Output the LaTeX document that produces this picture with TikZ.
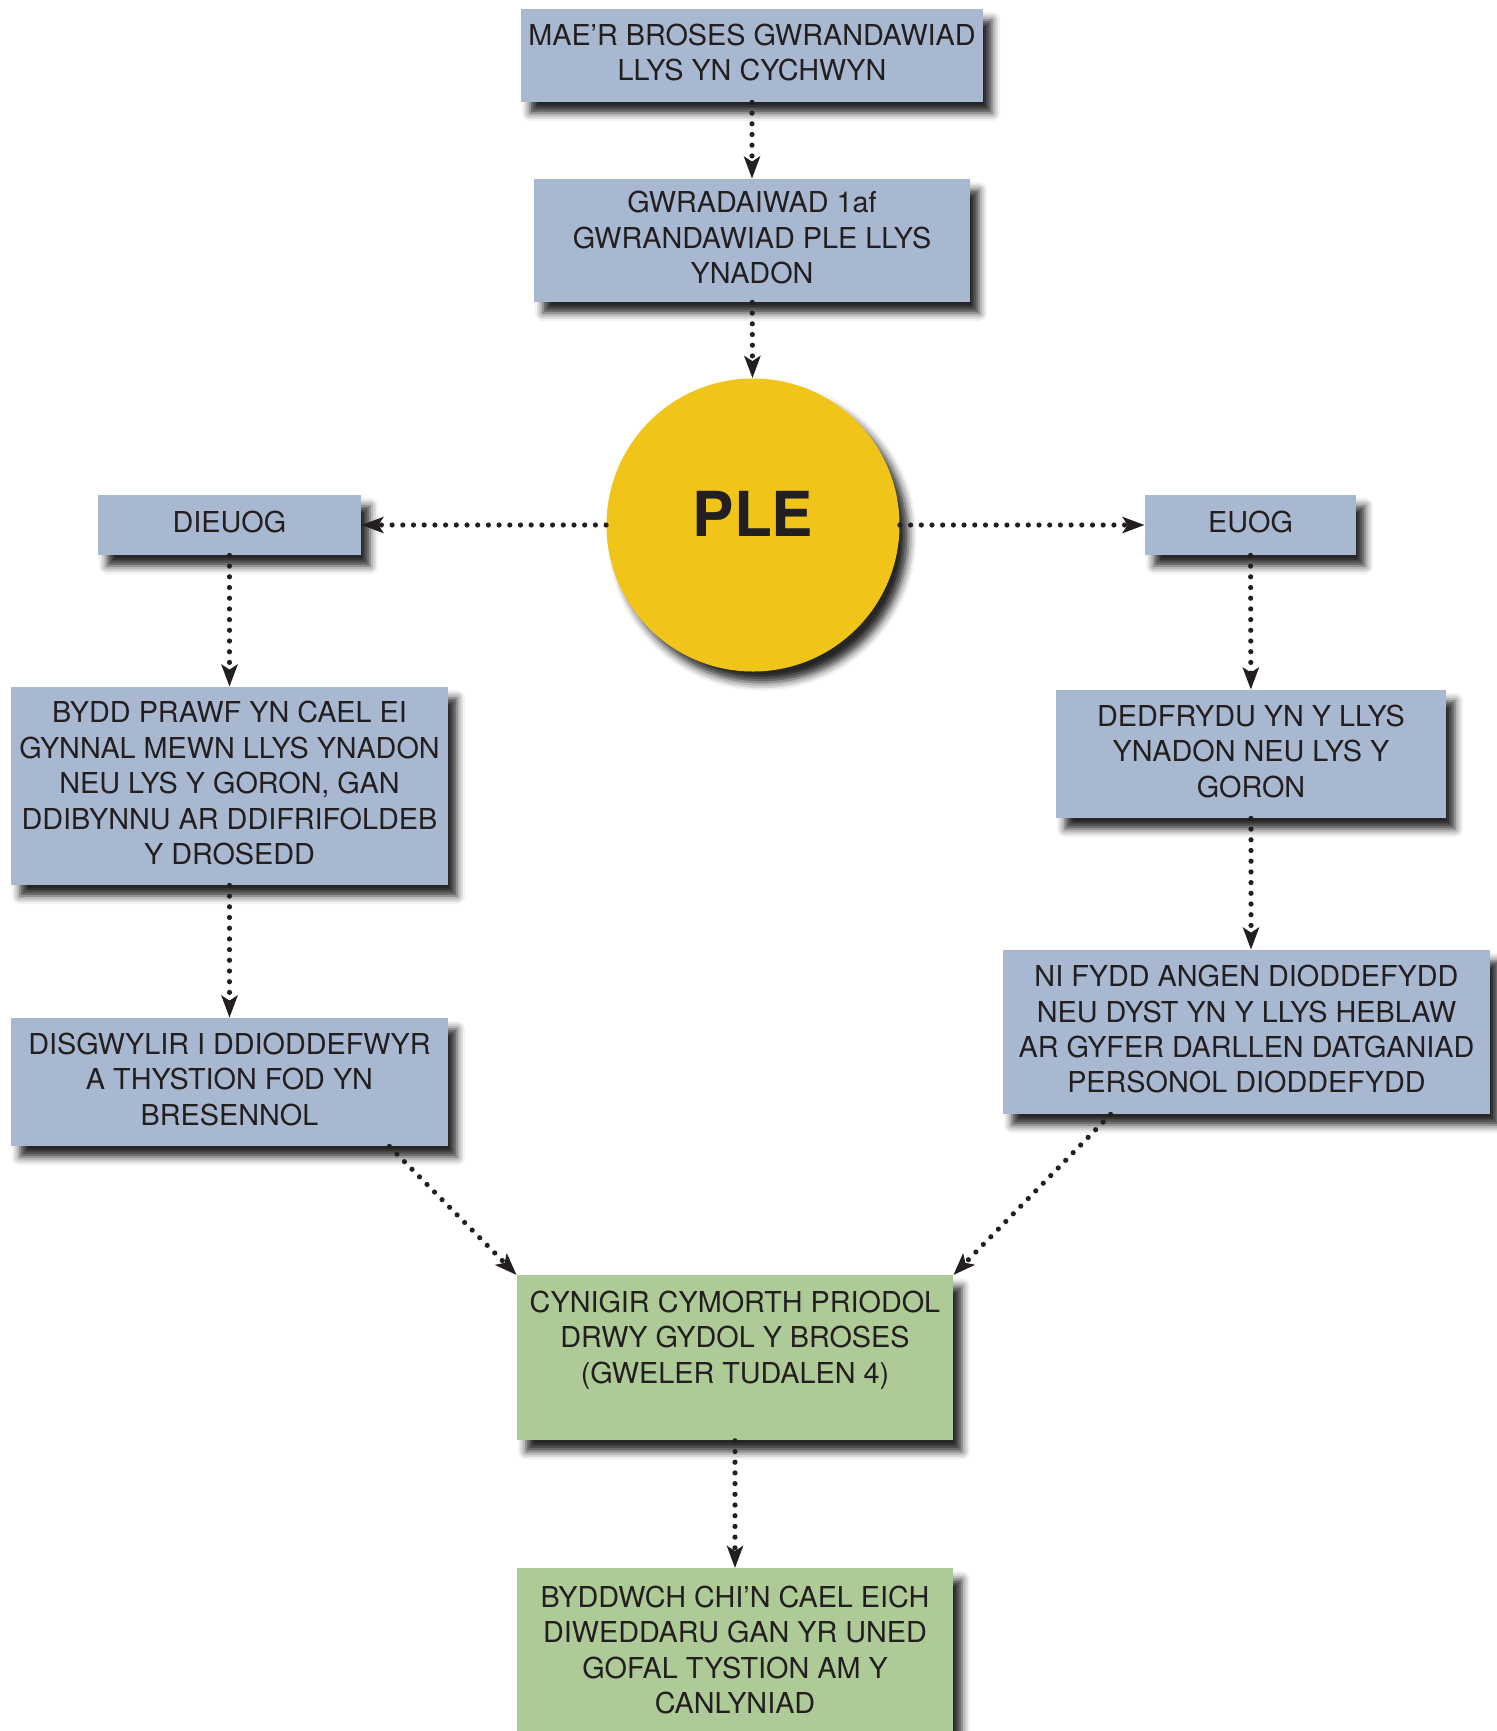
\documentclass[tikz,border=0pt]{standalone}
\usepackage{fontspec}
\setmainfont{TeX Gyre Heros}
\usetikzlibrary{arrows.meta,shadows.blur}
\definecolor{boxblue}{HTML}{A8B8D1}
\definecolor{boxgreen}{HTML}{AECA96}
\definecolor{pleyellow}{HTML}{F0C419}
\definecolor{ink}{HTML}{231F20}
\tikzset{
	softshadow/.style={blur shadow={shadow xshift=4.5pt,shadow yshift=-5.5pt,shadow blur radius=4pt,shadow opacity=85}},
	card/.style={rectangle,inner sep=0pt,align=center,text=ink,font=\fontsize{14.4}{17.7}\selectfont,softshadow,
		execute at end node={\rule[-3pt]{0pt}{3pt}}},
	bluecard/.style={card,fill=boxblue},
	greencard/.style={card,fill=boxgreen,anchor=north,minimum width=218pt},
	dots/.style={ink,line width=2.6pt,line cap=round,dash pattern=on 0pt off 5.35pt,-{Stealth[length=11pt,width=8pt,inset=2.5pt]}}
}
\begin{document}
\begin{tikzpicture}[x=0.5pt,y=-0.5pt]
			\clip(0,0)rectangle(1497,1731);
			\node[bluecard,minimum width=231pt,minimum height=46.5pt](start)at(752,55.5){MAE’R BROSES GWRANDAWIAD\\LLYS YN CYCHWYN};
			\node[bluecard,minimum width=218pt,minimum height=61.5pt](first)at(752,240.5){GWRADAIWAD 1af\\GWRANDAWIAD PLE LLYS\\YNADON};
			\node[circle,fill=pleyellow,minimum size=146.5pt,inner sep=0pt,text=ink,text depth=11pt,font=\fontsize{31}{31}\selectfont\bfseries,softshadow](ple)at(753,525){PLE};
			\node[bluecard,minimum width=131.5pt,minimum height=30pt](dieuog)at(229.5,525){DIEUOG};
			\node[bluecard,minimum width=105.5pt,minimum height=30pt](euog)at(1250.5,525){EUOG};
			\node[bluecard,minimum width=218.5pt,minimum height=99pt](trial)at(229.5,786){BYDD PRAWF YN CAEL EI\\GYNNAL MEWN LLYS YNADON\\NEU LYS Y GORON, GAN\\DDIBYNNU AR DDIFRIFOLDEB\\Y DROSEDD};
			\node[bluecard,minimum width=218.5pt,minimum height=64pt](attend)at(229.5,1082){DISGWYLIR I DDIODDEFWYR\\A THYSTION FOD YN\\BRESENNOL};
			\node[bluecard,minimum width=195pt,minimum height=64pt](sentence)at(1251,754){DEDFRYDU YN Y LLYS\\YNADON NEU LYS Y\\GORON};
			\node[bluecard,minimum width=243.5pt,minimum height=82pt](noneed)at(1246.5,1032){NI FYDD ANGEN DIODDEFYDD\\NEU DYST YN Y LLYS HEBLAW\\AR GYFER DARLLEN DATGANIAD\\PERSONOL DIODDEFYDD};
			\node[greencard,text height=53.9pt,text depth=28.6pt](support)at(735,1275){CYNIGIR CYMORTH PRIODOL\\DRWY GYDOL Y BROSES\\(GWELER TUDALEN 4)};
			\node[greencard,text height=72.6pt,text depth=50pt](update)at(735,1568){BYDDWCH CHI’N CAEL EICH\\DIWEDDARU GAN YR UNED\\GOFAL TYSTION AM Y\\CANLYNIAD};
			\draw[dots](start)--(first);
			\draw[dots](first)--(ple);
			\draw[dots](ple)--(dieuog);
			\draw[dots](ple)--(euog);
			\draw[dots](dieuog)--(trial);
			\draw[dots](trial)--(attend);
			\draw[dots](euog)--(sentence);
			\draw[dots](sentence.south)--(sentence.south|-noneed.north);
			\draw[dots]([xshift=-29.5pt]attend.south east)--(support.north west);
			\draw[dots]([xshift=54pt]noneed.south west)--(support.north east);
			\draw[dots](support)--(update);
		\end{tikzpicture}
\end{document}
